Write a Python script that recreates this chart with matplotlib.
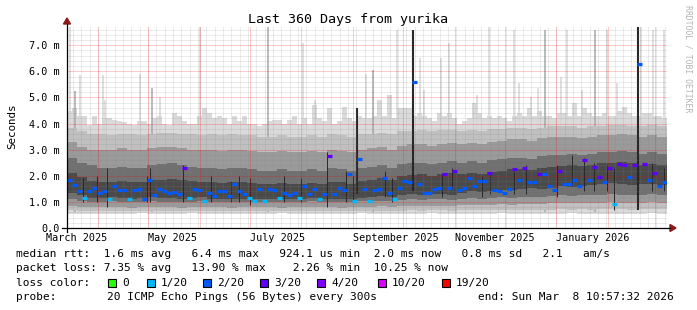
import datetime as dt
import matplotlib
matplotlib.use('Agg')
import matplotlib.pyplot as plt
from matplotlib.patches import Rectangle, Polygon
from matplotlib.lines import Line2D

plt.rcParams['font.family'] = ['DejaVu Sans Mono']

end = dt.datetime(2026, 3, 8, 10, 57, 32)
start = end - dt.timedelta(days=360)

# median rtt per 3-day step (ms) and pings lost (of 20)
BIN_DAYS = 3
median_ms = [1.85, 1.65, 1.40, 1.15, 1.42, 1.55, 1.35, 1.40, 1.10, 1.60,
             1.45, 1.45, 1.10, 1.45, 1.48, 1.10, 1.85, 1.25, 1.50, 1.40,
             1.33, 1.38, 1.30, 2.30, 1.15, 1.50, 1.45, 1.05, 1.35, 1.22,
             1.42, 1.42, 1.22, 1.70, 1.40, 1.30, 1.15, 1.05, 1.48, 1.05,
             1.50, 1.45, 1.15, 1.35, 1.25, 1.35, 1.15, 1.60, 1.30, 1.50,
             1.10, 1.30, 2.75, 1.30, 1.55, 1.45, 2.05, 1.05, 2.65, 1.50,
             1.05, 1.45, 1.50, 1.90, 1.35, 1.10, 1.55, 1.80, 1.75, 5.60,
             1.70, 1.35, 1.35, 1.50, 1.55, 2.05, 1.55, 2.20, 1.45, 1.55,
             1.90, 1.62, 1.80, 1.80, 2.10, 1.45, 1.40, 1.35, 1.50, 2.25,
             1.85, 2.30, 1.75, 1.75, 2.05, 2.05, 1.60, 1.45, 2.20, 1.70,
             1.70, 1.85, 1.60, 2.60, 1.85, 2.35, 1.95, 1.75, 2.30, 0.92,
             2.45, 2.40, 1.95, 2.40, 6.30, 2.45, 1.85, 2.10, 1.60, 1.75]
lost = [2, 2, 2, 1, 2, 2, 2, 2, 1, 2,
        2, 2, 1, 2, 2, 2, 2, 2, 2, 2,
        2, 2, 2, 3, 1, 2, 2, 1, 2, 2,
        2, 2, 2, 2, 2, 2, 1, 1, 2, 1,
        2, 2, 1, 2, 2, 2, 1, 2, 2, 2,
        1, 2, 3, 2, 2, 2, 2, 1, 2, 2,
        1, 2, 2, 2, 2, 1, 2, 2, 2, 2,
        2, 2, 2, 2, 2, 3, 2, 3, 2, 2,
        2, 2, 2, 2, 3, 2, 2, 2, 2, 3,
        2, 3, 2, 2, 3, 2, 2, 2, 3, 2,
        2, 2, 2, 3, 2, 3, 3, 2, 3, 1,
        3, 3, 2, 3, 2, 3, 2, 3, 2, 2]
ping_max = [4.5, 4.6, 4.3, 4.3, 3.95, 4.3, 4.0, 4.2, 4.2, 4.15,
            4.1, 4.05, 4.0, 3.95, 4.1, 4.1, 4.0, 4.2, 4.3, 4.0,
            3.95, 4.4, 4.3, 4.1, 4.0, 4.0, 4.3, 4.6, 4.4, 4.2,
            4.3, 4.2, 4.0, 4.3, 4.1, 4.3, 4.0, 4.0, 3.9, 4.0,
            4.1, 4.15, 4.15, 4.0, 4.15, 4.3, 4.0, 4.2, 4.0, 4.7,
            4.2, 4.1, 4.6, 4.0, 4.1, 4.65, 4.2, 4.1, 4.3, 4.2,
            4.2, 4.3, 4.9, 4.3, 5.1, 4.2, 4.6, 4.6, 4.6, 4.3,
            4.4, 4.3, 4.2, 4.1, 4.4, 4.3, 4.4, 4.2, 4.0, 4.1,
            4.2, 4.8, 4.4, 4.2, 4.3, 4.2, 4.3, 4.2, 4.1, 4.3,
            4.4, 4.3, 4.6, 4.3, 4.5, 4.3, 4.3, 4.2, 4.4, 4.4,
            4.3, 4.8, 4.3, 4.6, 4.4, 4.3, 4.3, 4.4, 4.3, 4.3,
            4.5, 4.65, 4.4, 4.3, 4.3, 4.4, 4.4, 4.3, 4.3, 4.2]

# smoke spread per 6-day step (ms), outer to inner
BAND_DAYS = 6
band_min = [0.55, 0.55, 0.54, 0.55, 0.55, 0.54, 0.55, 0.56, 0.55, 0.54,
            0.55, 0.55, 0.56, 0.55, 0.54, 0.55, 0.55, 0.55, 0.54, 0.55,
            0.55, 0.56, 0.55, 0.55, 0.54, 0.55, 0.55, 0.55, 0.55, 0.56,
            0.55, 0.55, 0.54, 0.55, 0.55, 0.55, 0.56, 0.55, 0.55, 0.54,
            0.55, 0.55, 0.55, 0.56, 0.55, 0.55, 0.54, 0.55, 0.55, 0.55,
            0.56, 0.55, 0.55, 0.55, 0.54, 0.55, 0.55, 0.55, 0.56, 0.55]
band_lo1 = [0.68, 0.66, 0.65, 0.65, 0.66, 0.65, 0.64, 0.65, 0.66, 0.65,
            0.65, 0.64, 0.65, 0.66, 0.65, 0.65, 0.64, 0.65, 0.65, 0.66,
            0.65, 0.64, 0.65, 0.65, 0.66, 0.65, 0.65, 0.64, 0.65, 0.66,
            0.66, 0.67, 0.66, 0.67, 0.68, 0.67, 0.68, 0.68, 0.67, 0.68,
            0.69, 0.68, 0.69, 0.70, 0.69, 0.70, 0.70, 0.69, 0.70, 0.71,
            0.70, 0.71, 0.70, 0.71, 0.72, 0.71, 0.70, 0.71, 0.72, 0.71]
band_lo2 = [0.85, 0.82, 0.80, 0.80, 0.82, 0.80, 0.78, 0.80, 0.82, 0.80,
            0.80, 0.78, 0.80, 0.82, 0.80, 0.80, 0.78, 0.80, 0.79, 0.80,
            0.80, 0.78, 0.80, 0.80, 0.82, 0.80, 0.80, 0.78, 0.80, 0.82,
            0.82, 0.84, 0.82, 0.85, 0.86, 0.85, 0.86, 0.86, 0.85, 0.88,
            0.90, 0.88, 0.90, 0.92, 0.90, 0.92, 0.93, 0.92, 0.94, 0.95,
            0.94, 0.96, 0.95, 0.96, 0.98, 0.96, 0.95, 0.96, 0.98, 0.96]
band_lo3 = [1.10, 1.05, 1.00, 1.00, 1.02, 1.00, 0.98, 1.00, 1.02, 1.00,
            1.00, 0.98, 1.00, 1.02, 1.00, 1.00, 0.98, 1.00, 0.98, 1.00,
            1.00, 0.98, 1.00, 1.00, 1.02, 1.00, 1.00, 0.98, 1.00, 1.02,
            1.02, 1.05, 1.03, 1.08, 1.10, 1.08, 1.10, 1.10, 1.08, 1.12,
            1.15, 1.12, 1.15, 1.18, 1.15, 1.18, 1.20, 1.18, 1.22, 1.25,
            1.22, 1.25, 1.25, 1.28, 1.30, 1.28, 1.25, 1.28, 1.30, 1.28]
band_lo4 = [1.35, 1.25, 1.15, 1.15, 1.18, 1.15, 1.12, 1.15, 1.18, 1.15,
            1.15, 1.12, 1.15, 1.18, 1.12, 1.12, 1.10, 1.12, 1.10, 1.12,
            1.12, 1.10, 1.12, 1.12, 1.15, 1.12, 1.12, 1.10, 1.12, 1.15,
            1.18, 1.22, 1.20, 1.28, 1.30, 1.28, 1.30, 1.30, 1.28, 1.35,
            1.40, 1.38, 1.42, 1.45, 1.45, 1.50, 1.52, 1.50, 1.55, 1.60,
            1.58, 1.62, 1.65, 1.68, 1.72, 1.70, 1.65, 1.68, 1.70, 1.66]
band_hi4 = [2.10, 1.95, 1.80, 1.75, 1.78, 1.80, 1.75, 1.78, 1.85, 1.85,
            1.88, 1.82, 1.80, 1.75, 1.75, 1.72, 1.75, 1.75, 1.72, 1.70,
            1.70, 1.72, 1.70, 1.70, 1.72, 1.70, 1.78, 1.75, 1.70, 1.80,
            1.85, 1.90, 1.85, 2.00, 2.02, 2.05, 2.00, 2.05, 2.10, 2.05,
            2.10, 2.08, 2.15, 2.20, 2.25, 2.25, 2.22, 2.30, 2.35, 2.38,
            2.42, 2.38, 2.42, 2.48, 2.50, 2.52, 2.48, 2.42, 2.45, 2.40]
band_hi3 = [2.70, 2.50, 2.40, 2.30, 2.30, 2.35, 2.30, 2.30, 2.40, 2.45,
            2.50, 2.40, 2.35, 2.30, 2.30, 2.25, 2.30, 2.30, 2.25, 2.20,
            2.20, 2.25, 2.20, 2.20, 2.25, 2.20, 2.30, 2.25, 2.20, 2.30,
            2.35, 2.40, 2.30, 2.45, 2.50, 2.50, 2.45, 2.50, 2.55, 2.50,
            2.55, 2.50, 2.60, 2.65, 2.70, 2.70, 2.65, 2.75, 2.80, 2.80,
            2.85, 2.80, 2.85, 2.90, 2.90, 2.95, 2.90, 2.85, 2.90, 2.85]
band_hi2 = [3.30, 3.10, 3.00, 3.00, 3.00, 3.05, 3.00, 3.00, 3.05, 3.10,
            3.10, 3.05, 3.00, 3.00, 3.00, 2.95, 3.00, 3.00, 2.95, 2.90,
            2.90, 2.95, 2.90, 2.90, 2.95, 2.90, 3.00, 2.95, 2.90, 3.00,
            3.05, 3.10, 3.00, 3.15, 3.20, 3.20, 3.15, 3.20, 3.25, 3.20,
            3.25, 3.20, 3.30, 3.35, 3.40, 3.40, 3.35, 3.45, 3.50, 3.50,
            3.50, 3.45, 3.50, 3.55, 3.55, 3.60, 3.55, 3.50, 3.55, 3.50]
band_hi1 = [3.85, 3.70, 3.60, 3.60, 3.55, 3.60, 3.60, 3.55, 3.60, 3.65,
            3.65, 3.60, 3.60, 3.55, 3.60, 3.55, 3.60, 3.55, 3.55, 3.50,
            3.50, 3.55, 3.50, 3.50, 3.55, 3.50, 3.60, 3.55, 3.50, 3.60,
            3.60, 3.65, 3.60, 3.70, 3.70, 3.75, 3.70, 3.75, 3.75, 3.70,
            3.75, 3.70, 3.80, 3.80, 3.85, 3.85, 3.80, 3.85, 3.90, 3.90,
            3.90, 3.85, 3.90, 3.90, 3.95, 3.95, 3.90, 3.90, 3.95, 3.90]

# thin single-column outliers: day since start, top (ms), layer (0 light, 1 mid)
spike_day = [1.8, 4.8, 7.8, 21.3, 22.8, 43.8, 51.0, 55.8, 79.5, 120.6,
             141.6, 148.8, 179.4, 183.6, 198.0, 211.8, 214.2, 224.4, 229.2, 246.0,
             253.2, 268.2, 271.2, 278.4, 282.6, 286.8, 296.4, 300.0, 309.0, 316.8,
             324.0, 330.0, 344.4, 351.6, 358.2]
spike_top = [7.7, 5.25, 5.85, 5.85, 4.9, 5.9, 5.35, 5.0, 7.7, 7.7,
             7.1, 4.9, 5.9, 6.05, 7.6, 6.5, 5.3, 6.5, 7.1, 5.1,
             7.7, 7.6, 5.55, 5.0, 5.35, 7.6, 5.8, 7.6, 5.3, 7.6,
             7.6, 5.55, 7.7, 7.6, 7.6]
spike_layer = [0, 1, 0, 0, 0, 0, 1, 0, 0, 1,
               0, 0, 0, 1, 0, 0, 0, 0, 0, 0,
               0, 0, 0, 0, 0, 1, 0, 0, 0, 1,
               0, 0, 0, 0, 0]

# dark streaks of the inner pings: day since start, low and high (ms)
streak_day = [9.6, 18.0, 24.0, 48.0, 49.8, 69.6, 86.4, 98.4, 103.2, 109.8,
              130.2, 140.4, 156.0, 167.4, 171.6, 174.0, 190.8, 195.0, 207.6, 225.0,
              231.0, 249.0, 253.8, 268.2, 275.4, 294.0, 303.0, 310.2, 316.2, 324.0,
              328.2, 342.3, 351.0, 358.2]
streak_lo = [1.0, 1.0, 0.8, 1.0, 1.0, 1.0, 1.0, 1.0, 1.0, 0.9,
             1.0, 1.0, 0.8, 1.0, 1.0, 1.3, 1.2, 1.0, 1.4, 1.2,
             1.5, 1.2, 1.3, 1.3, 1.3, 1.2, 1.6, 1.4, 1.4, 1.4,
             0.7, 0.7, 1.4, 1.4]
streak_hi = [1.9, 2.0, 2.3, 2.0, 2.3, 2.4, 2.0, 1.8, 2.0, 1.9,
             2.0, 1.9, 2.9, 2.2, 2.0, 4.6, 2.2, 1.9, 7.6, 2.1,
             2.3, 2.0, 2.2, 2.3, 2.4, 2.4, 2.8, 2.7, 2.5, 2.4,
             2.3, 7.7, 2.5, 2.3]

loss_colors = {0: '#26ff00', 1: '#00b8ff', 2: '#0059ff', 3: '#5e00ff',
               4: '#7e00ff', 10: '#dd00ff', 19: '#ff0000'}
loss_labels = ['0', '1/20', '2/20', '3/20', '4/20', '10/20', '19/20']

W, H = 697, 310


def fx(px):
    return px / W


def fy(py):
    return 1 - py / H


def ext(a):
    return list(a) + [a[-1]]


fig = plt.figure(figsize=(W / 100, H / 100), dpi=100)
fig.patch.set_facecolor('white')
ax = fig.add_axes([fx(67), fy(228), 600 / W, 201 / H])
ax.set_xlim(0, 360)
ax.set_ylim(0, 7.7)
for s in ax.spines.values():
    s.set_visible(False)

# smoke, outer layers first
n = len(median_ms)
mx = [i * BIN_DAYS for i in range(n + 1)]
nb = len(band_min)
bx = [i * BAND_DAYS for i in range(nb + 1)]
ax.fill_between(mx, ext([band_min[i * BIN_DAYS // BAND_DAYS] for i in range(n)]),
                ext(ping_max), step='post', color='#dadada', lw=0, zorder=1)
ax.vlines(spike_day, 0.6, spike_top,
          colors=['#d6d6d6' if l == 0 else '#a8a8a8' for l in spike_layer], lw=1.1, zorder=1.2)
layers = [(band_lo1, band_hi1, '#c0c0c0'), (band_lo2, band_hi2, '#9a9a9a'),
          (band_lo3, band_hi3, '#707070'), (band_lo4, band_hi4, '#4a4a4a')]
for k, (lo, hi, c) in enumerate(layers):
    ax.fill_between(bx, ext(lo), ext(hi), step='post', color=c, lw=0, zorder=1.5 + k * 0.1)
ax.vlines(streak_day, streak_lo, streak_hi, colors='#262626',
          lw=[1.5 if h - l > 3 else 0.7 for l, h in zip(streak_lo, streak_hi)], zorder=1.95)

# grid
dotted = (0, (1, 1))
minor_y = [i * 0.2 for i in range(1, 39) if i % 5]
ax.hlines(minor_y, 0, 360, colors=(0.5, 0.5, 0.5, 0.3), lw=0.72, linestyles=dotted, zorder=2)
ax.hlines(range(1, 8), 0, 360, colors=(1, 0, 0, 0.4), lw=0.72, linestyles=dotted, zorder=2.1)

months = []
for k in range(13):
    y, m = 2025 + (2 + k) // 12, (2 + k) % 12 + 1
    months.append(dt.datetime(y, m, 1))
month_days = [(d - start).total_seconds() / 86400 for d in months]
minor_x = []
d = dt.datetime(2025, 3, 17)
while d < end:
    minor_x.append((d - start).total_seconds() / 86400)
    d += dt.timedelta(days=5)
ax.vlines(minor_x, 0, 7.7, colors=(0.5, 0.5, 0.5, 0.3), lw=0.72, linestyles=dotted, zorder=2)
ax.vlines([m for m in month_days if 0 < m < 360], 0, 7.7, colors=(1, 0, 0, 0.4), lw=0.72,
          linestyles=dotted, zorder=2.1)

# median
ax.hlines(median_ms, mx[:-1], mx[1:], colors=[loss_colors[l] for l in lost], lw=2.3, zorder=3)

# ticks
ax.set_xticks([])
ax.set_yticks(range(8))
ax.set_yticklabels(['0.0'] + ['%d.0 m' % i for i in range(1, 8)], fontsize=7.3)
ax.tick_params(axis='y', length=0, pad=5)
for d, m in zip(month_days, months):
    if m.month % 2 == 1 and d + 30 < 360:
        ax.text(d, -0.05, m.strftime('%B %Y'), transform=ax.get_xaxis_transform(),
                ha='left', va='center', fontsize=7.3, clip_on=False)

# axes with arrows
fig.add_artist(Line2D([fx(62), fx(670)], [fy(228), fy(228)], color='black', lw=0.9))
fig.add_artist(Line2D([fx(67), fx(67)], [fy(232), fy(24)], color='black', lw=0.9))
fig.add_artist(Polygon([(fx(63.5), fy(24)), (fx(70.5), fy(24)), (fx(67), fy(18))],
                       closed=True, color='#8b1a1a', transform=fig.transFigure))
fig.add_artist(Polygon([(fx(670), fy(224.5)), (fx(670), fy(231.5)), (fx(676), fy(228))],
                       closed=True, color='#8b1a1a', transform=fig.transFigure))

fig.text(fx(348), fy(19), 'Last 360 Days from yurika', ha='center', va='center', fontsize=9.6)
fig.text(fx(12), fy(126), 'Seconds', ha='center', va='center', rotation=90, fontsize=7.8)
fig.text(fx(688), fy(5), 'RRDTOOL / TOBI OETIKER', ha='center', va='top', rotation=270,
         fontsize=5.9, color='#b4b4b4')

# legend
lines = ['median rtt:  1.6 ms avg   6.4 ms max   924.1 us min  2.0 ms now   0.8 ms sd   2.1   am/s',
         'packet loss: 7.35 % avg   13.90 % max    2.26 % min  10.25 % now']
fig.text(fx(16), fy(254), lines[0], ha='left', va='center', fontsize=8)
fig.text(fx(16), fy(268), lines[1], ha='left', va='center', fontsize=8)
fig.text(fx(16), fy(283), 'loss color:', ha='left', va='center', fontsize=8)
box_x = [108, 147, 203, 260, 317, 378, 442]
for bxp, key, lab in zip(box_x, loss_colors, loss_labels):
    fig.add_artist(Rectangle((fx(bxp), fy(287)), 8 / W, 8 / H, facecolor=loss_colors[key],
                             edgecolor='black', lw=0.8, transform=fig.transFigure))
    fig.text(fx(bxp + 14), fy(283), lab, ha='left', va='center', fontsize=8)
fig.text(fx(16), fy(297), 'probe:', ha='left', va='center', fontsize=8)
fig.text(fx(107), fy(297), '20 ICMP Echo Pings (56 Bytes) every 300s', ha='left', va='center', fontsize=8)
fig.text(fx(478), fy(297), 'end: Sun Mar  8 10:57:32 2026', ha='left', va='center', fontsize=8)

fig.savefig('out.png', dpi=100, facecolor='white')
